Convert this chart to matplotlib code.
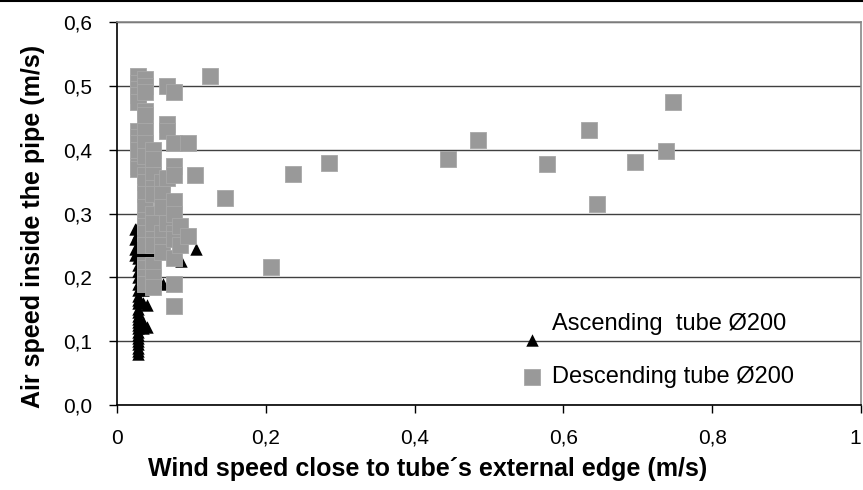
import matplotlib
matplotlib.use('Agg')
import matplotlib.pyplot as plt
from matplotlib.ticker import FuncFormatter
from matplotlib.lines import Line2D
from matplotlib.legend_handler import HandlerPathCollection

plt.rcParams['font.family'] = ['Liberation Sans', 'DejaVu Sans']

# Ascending tube Ø200 (black triangles)
asc_x = [0.028, 0.028, 0.028, 0.028, 0.028, 0.028, 0.028, 0.028, 0.028, 0.028,
         0.028, 0.028, 0.028, 0.028, 0.028, 0.028, 0.028, 0.028, 0.028, 0.028,
         0.028, 0.028, 0.028, 0.028, 0.028, 0.028, 0.028, 0.028,
         0.024, 0.024, 0.024, 0.024,
         0.035, 0.035, 0.035, 0.035, 0.035, 0.035, 0.035, 0.035,
         0.040, 0.040, 0.040, 0.040,
         0.050, 0.050, 0.062, 0.086, 0.106]
asc_y = [0.080, 0.085, 0.090, 0.095, 0.100, 0.105, 0.110, 0.115, 0.120, 0.125,
         0.130, 0.135, 0.140, 0.145, 0.150, 0.160, 0.165, 0.170, 0.180, 0.190,
         0.200, 0.210, 0.220, 0.230, 0.240, 0.250, 0.270, 0.280,
         0.235, 0.245, 0.260, 0.275,
         0.120, 0.130, 0.160, 0.180, 0.200, 0.220, 0.240, 0.310,
         0.122, 0.157, 0.230, 0.240,
         0.235, 0.240, 0.190, 0.226, 0.245]

# Descending tube Ø200 (grey squares)
desc_x = [0.028, 0.028, 0.028, 0.028, 0.028, 0.028, 0.028, 0.028, 0.028, 0.028, 0.028,
          0.038, 0.038, 0.038, 0.038, 0.038, 0.038, 0.038, 0.038, 0.038, 0.038,
          0.038, 0.038, 0.038, 0.038, 0.038, 0.038, 0.038, 0.038, 0.038, 0.038,
          0.048, 0.048, 0.048, 0.048, 0.048, 0.048, 0.048, 0.048, 0.048, 0.048, 0.048, 0.048,
          0.060, 0.060, 0.060, 0.060, 0.060, 0.060,
          0.067, 0.067, 0.067, 0.067, 0.067,
          0.077, 0.077, 0.077, 0.077, 0.077, 0.077, 0.077, 0.077, 0.077, 0.077, 0.077,
          0.085, 0.085, 0.095, 0.095, 0.105,
          0.125, 0.145, 0.207, 0.237, 0.285, 0.445, 0.485, 0.578, 0.634, 0.645,
          0.696, 0.738, 0.747]
desc_y = [0.515, 0.505, 0.495, 0.485, 0.475, 0.430, 0.420, 0.410, 0.400, 0.375, 0.370,
          0.510, 0.500, 0.490, 0.460, 0.455, 0.430, 0.410, 0.390, 0.360, 0.350,
          0.330, 0.310, 0.290, 0.280, 0.270, 0.250, 0.220, 0.215, 0.200, 0.190,
          0.400, 0.385, 0.360, 0.340, 0.330, 0.300, 0.285, 0.260, 0.250, 0.220, 0.200, 0.185,
          0.350, 0.330, 0.310, 0.270, 0.250, 0.240,
          0.500, 0.440, 0.430, 0.355, 0.285,
          0.490, 0.410, 0.375, 0.360, 0.320, 0.300, 0.270, 0.260, 0.230, 0.190, 0.155,
          0.280, 0.250, 0.410, 0.265, 0.360,
          0.515, 0.325, 0.216, 0.362, 0.379, 0.386, 0.415, 0.378, 0.431, 0.315,
          0.381, 0.398, 0.475]

x_ticks = [0, 0.2, 0.4, 0.6, 0.8, 1.0]
y_ticks = [0.0, 0.1, 0.2, 0.3, 0.4, 0.5, 0.6]

fig = plt.figure(figsize=(8.63, 4.90), dpi=100)
ax = fig.add_axes([0.1356, 0.1735, 0.8621, 0.7815])

asc = ax.scatter(asc_x, asc_y, marker='^', s=80, color='black', linewidths=0,
                 label='Ascending  tube Ø200', zorder=3)
desc = ax.scatter(desc_x, desc_y, marker='s', s=120, color='#999999', edgecolors='#a8a8a8',
                  linewidths=0.6, label='Descending tube Ø200', zorder=4)

ax.set_xlim(0, 1)
ax.set_ylim(0, 0.6)
ax.set_xticks(x_ticks)
ax.set_yticks(y_ticks)
ax.xaxis.set_major_formatter(FuncFormatter(lambda v, p: ('%g' % v).replace('.', ',')))
ax.yaxis.set_major_formatter(FuncFormatter(lambda v, p: ('%.1f' % v).replace('.', ',')))
ax.tick_params(axis='both', direction='out', length=6, width=1, labelsize=15, color='black')
ax.tick_params(axis='x', pad=11)
ax.tick_params(axis='y', pad=12)
ax.get_xticklabels()[-1].set_ha('right')

ax.yaxis.grid(True, color='#404040', linewidth=1)
ax.set_axisbelow(True)
for side in ['left', 'bottom']:
    ax.spines[side].set_color('black')
    ax.spines[side].set_linewidth(1.2)
for side in ['top', 'right']:
    ax.spines[side].set_color('#888888')
    ax.spines[side].set_linewidth(1.2)

ax.set_xlabel('Wind speed close to tube´s external edge (m/s)', fontsize=18,
              fontweight='bold', va='top')
ax.xaxis.set_label_coords(0.418, -0.135)
ax.set_ylabel('Air speed inside the pipe (m/s)', fontsize=18, fontweight='bold')
ax.yaxis.set_label_coords(-0.097, 0.465)

ax.legend(handles=[asc, desc], loc='upper left', bbox_to_anchor=(0.542, 0.24),
          frameon=False, fontsize=17, labelspacing=1.3, handletextpad=0.35,
          handlelength=1.0, borderpad=0, borderaxespad=0,
          handler_map={asc: HandlerPathCollection(yoffsets=[-0.6]),
                       desc: HandlerPathCollection(yoffsets=[0.375])})

# chart border line at the top
fig.add_artist(Line2D([0, 1], [0.998, 0.998], color='black', linewidth=1.5))

fig.savefig('out.png', dpi=100)
